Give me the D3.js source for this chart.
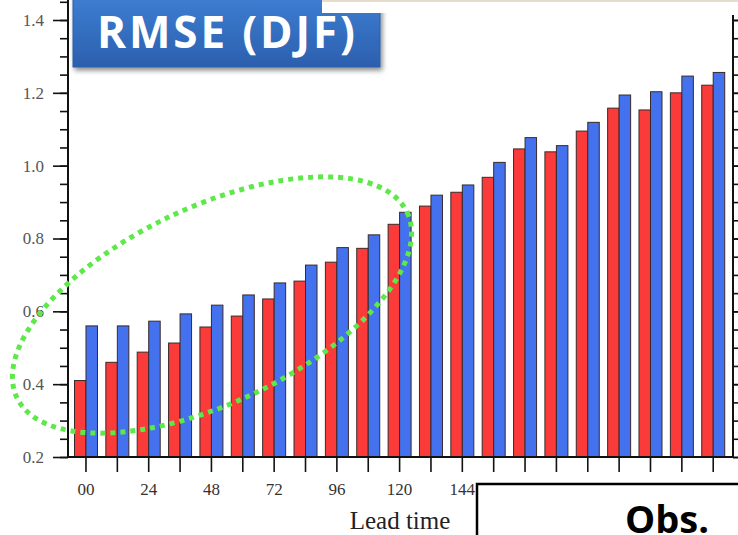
<!DOCTYPE html>
<html>
<head>
<meta charset="utf-8">
<script src="https://d3js.org/d3.v7.min.js"></script>
<style>
  body { margin: 0; background: #fff; }
  svg { display: block; }
</style>
</head>
<body>
<div id="chart"></div>
<script>
// DATA
const leadTimes = [0, 12, 24, 36, 48, 60, 72, 84, 96, 108, 120, 132, 144, 156, 168, 180, 192, 204, 216, 228, 240]
const redValues = [0.41, 0.46, 0.488, 0.513, 0.557, 0.587, 0.634, 0.683, 0.735, 0.773, 0.839, 0.889, 0.927, 0.968, 1.046, 1.038, 1.095, 1.158, 1.153, 1.200, 1.221]
const blueValues = [0.56, 0.56, 0.573, 0.593, 0.617, 0.645, 0.678, 0.727, 0.775, 0.81, 0.872, 0.919, 0.947, 1.009, 1.077, 1.055, 1.119, 1.194, 1.203, 1.246, 1.256]
const seriesNames = ["red", "blue"]
const yTicks = [0.2, 0.4, 0.6, 0.8, 1.0, 1.2, 1.4]
// labels past 144 sit under the legend box in the original
const xLabelTicks = [0, 24, 48, 72, 96, 120, 144]
const titleText = "RMSE (DJF)"
const xTitle = "Lead time"
const legendText = "Obs."

const width = 738
const height = 535

const svg = d3.select("#chart").append("svg").attr("width", width).attr("height", height)
const defs = svg.append("defs")

// gradient + shadow for title box
const grad = defs.append("linearGradient").attr("id", "titleGrad").attr("x1", 0).attr("y1", 0).attr("x2", 0).attr("y2", 1)
grad.append("stop").attr("offset", "0%").attr("stop-color", "#3d7fd3")
grad.append("stop").attr("offset", "100%").attr("stop-color", "#2c5fae")
const shadow = defs.append("filter").attr("id", "shadow").attr("x", "-10%").attr("y", "-10%").attr("width", "130%").attr("height", "140%")
shadow.append("feDropShadow").attr("dx", 2).attr("dy", 3).attr("stdDeviation", 2.5).attr("flood-color", "#000").attr("flood-opacity", 0.45)

// SCALES
const x = d3.scaleBand().domain(leadTimes).range([70.3, 728.9]).padding(0)
const xSeries = d3.scaleBand().domain(seriesNames).range([x.bandwidth() / 2 - 11.5, x.bandwidth() / 2 + 11.5])
const y = d3.scaleLinear().domain([0.2, 1.4]).range([457, 20])

const colors = { red: "#fb3a3a", blue: "#4472ee" }

// BARS
const rows = leadTimes.map((t, i) => ({ t: t, red: redValues[i], blue: blueValues[i] }))
const groups = svg.append("g").selectAll("g").data(rows).join("g")
  .attr("transform", d => `translate(${x(d.t)},0)`)
groups.selectAll("rect").data(d => seriesNames.map(s => ({ s: s, v: d[s] }))).join("rect")
  .attr("x", d => xSeries(d.s))
  .attr("y", d => y(d.v))
  .attr("width", xSeries.bandwidth())
  .attr("height", d => y(0.2) - y(d.v))
  .attr("fill", d => colors[d.s])
  .attr("stroke", "#3a2a2a")
  .attr("stroke-width", 1)

// AXES
const minorTicks = d3.range(0.2, 1.46, 0.05)
const axisStyle = g => {
  g.select(".domain").remove()
  g.selectAll("line").attr("stroke", "#111").attr("stroke-width", 1.6)
}
// left
svg.append("g").attr("transform", "translate(68,0)")
  .call(d3.axisLeft(y).tickValues(minorTicks).tickSize(8).tickFormat(""))
  .call(axisStyle)
svg.append("g").attr("transform", "translate(68,0)")
  .call(d3.axisLeft(y).tickValues(yTicks).tickSize(15).tickPadding(8).tickFormat(d3.format(".1f")))
  .call(axisStyle)
  .call(g => g.selectAll("text").attr("font-family", "Liberation Serif, serif").attr("font-size", 17).attr("fill", "#555").attr("x", -24))
// right
svg.append("g").attr("transform", "translate(733,0)")
  .call(d3.axisRight(y).tickValues(minorTicks).tickSize(5).tickFormat(""))
  .call(axisStyle)
svg.append("g").attr("transform", "translate(733,0)")
  .call(d3.axisRight(y).tickValues(yTicks).tickSize(9).tickFormat(""))
  .call(axisStyle)
// bottom
svg.append("g").attr("transform", "translate(0,457)")
  .call(d3.axisBottom(x).tickSize(15).tickFormat(""))
  .call(axisStyle)
svg.append("g").attr("transform", "translate(0,457)")
  .call(d3.axisBottom(x).tickValues(xLabelTicks).tickSize(0).tickPadding(26).tickFormat(d => d === 0 ? "00" : d))
  .call(axisStyle)
  .call(g => g.selectAll("text").attr("font-family", "Liberation Serif, serif").attr("font-size", 17).attr("fill", "#333"))

// frame lines
svg.append("line").attr("x1", 68).attr("x2", 68).attr("y1", 0).attr("y2", 458).attr("stroke", "#111").attr("stroke-width", 2)
svg.append("line").attr("x1", 733).attr("x2", 733).attr("y1", 15).attr("y2", 458).attr("stroke", "#111").attr("stroke-width", 2)
svg.append("line").attr("x1", 67).attr("x2", 734).attr("y1", 457).attr("y2", 457).attr("stroke", "#111").attr("stroke-width", 2)

// x title
svg.append("text").attr("x", 400).attr("y", 529).attr("text-anchor", "middle")
  .attr("font-family", "Liberation Serif, serif").attr("font-size", 25).attr("fill", "#222").text(xTitle)

// green dotted ellipse
svg.append("ellipse").attr("cx", 212).attr("cy", 305).attr("rx", 216).attr("ry", 98)
  .attr("transform", "rotate(-25.4 212 305)")
  .attr("fill", "none").attr("stroke", "#5ee84a").attr("stroke-width", 5).attr("stroke-dasharray", "5 5")

// title box
svg.append("rect").attr("x", 73).attr("y", -6).attr("width", 307).attr("height", 73)
  .attr("fill", "url(#titleGrad)").attr("stroke", "#2d5fa8").attr("stroke-width", 1).attr("filter", "url(#shadow)")
svg.append("text").attr("x", 97).attr("y", 48).attr("fill", "#fff")
  .attr("font-family", "Open Sans, sans-serif").attr("font-weight", 700).attr("font-size", 44)
  .attr("textLength", 258).attr("lengthAdjust", "spacing").text(titleText)

// top white strip (part of other figure)
svg.append("rect").attr("x", 322).attr("y", 0).attr("width", 416).attr("height", 13).attr("fill", "#fff")
svg.append("line").attr("x1", 322).attr("x2", 738).attr("y1", 1).attr("y2", 1).attr("stroke", "#e6dccb").attr("stroke-width", 2)

// legend
svg.append("rect").attr("x", 477).attr("y", 484).attr("width", 270).attr("height", 60)
  .attr("fill", "#fff").attr("stroke", "#000").attr("stroke-width", 2.5)
svg.append("line").attr("x1", 491).attr("x2", 574).attr("y1", 517).attr("y2", 517)
  .attr("stroke", "#000").attr("stroke-width", 11).attr("stroke-linecap", "round").attr("filter", "url(#shadow)")
svg.append("text").attr("x", 625).attr("y", 533).attr("fill", "#000")
  .attr("font-family", "Open Sans, sans-serif").attr("font-weight", 700).attr("font-size", 38).text(legendText)
</script>
</body>
</html>
